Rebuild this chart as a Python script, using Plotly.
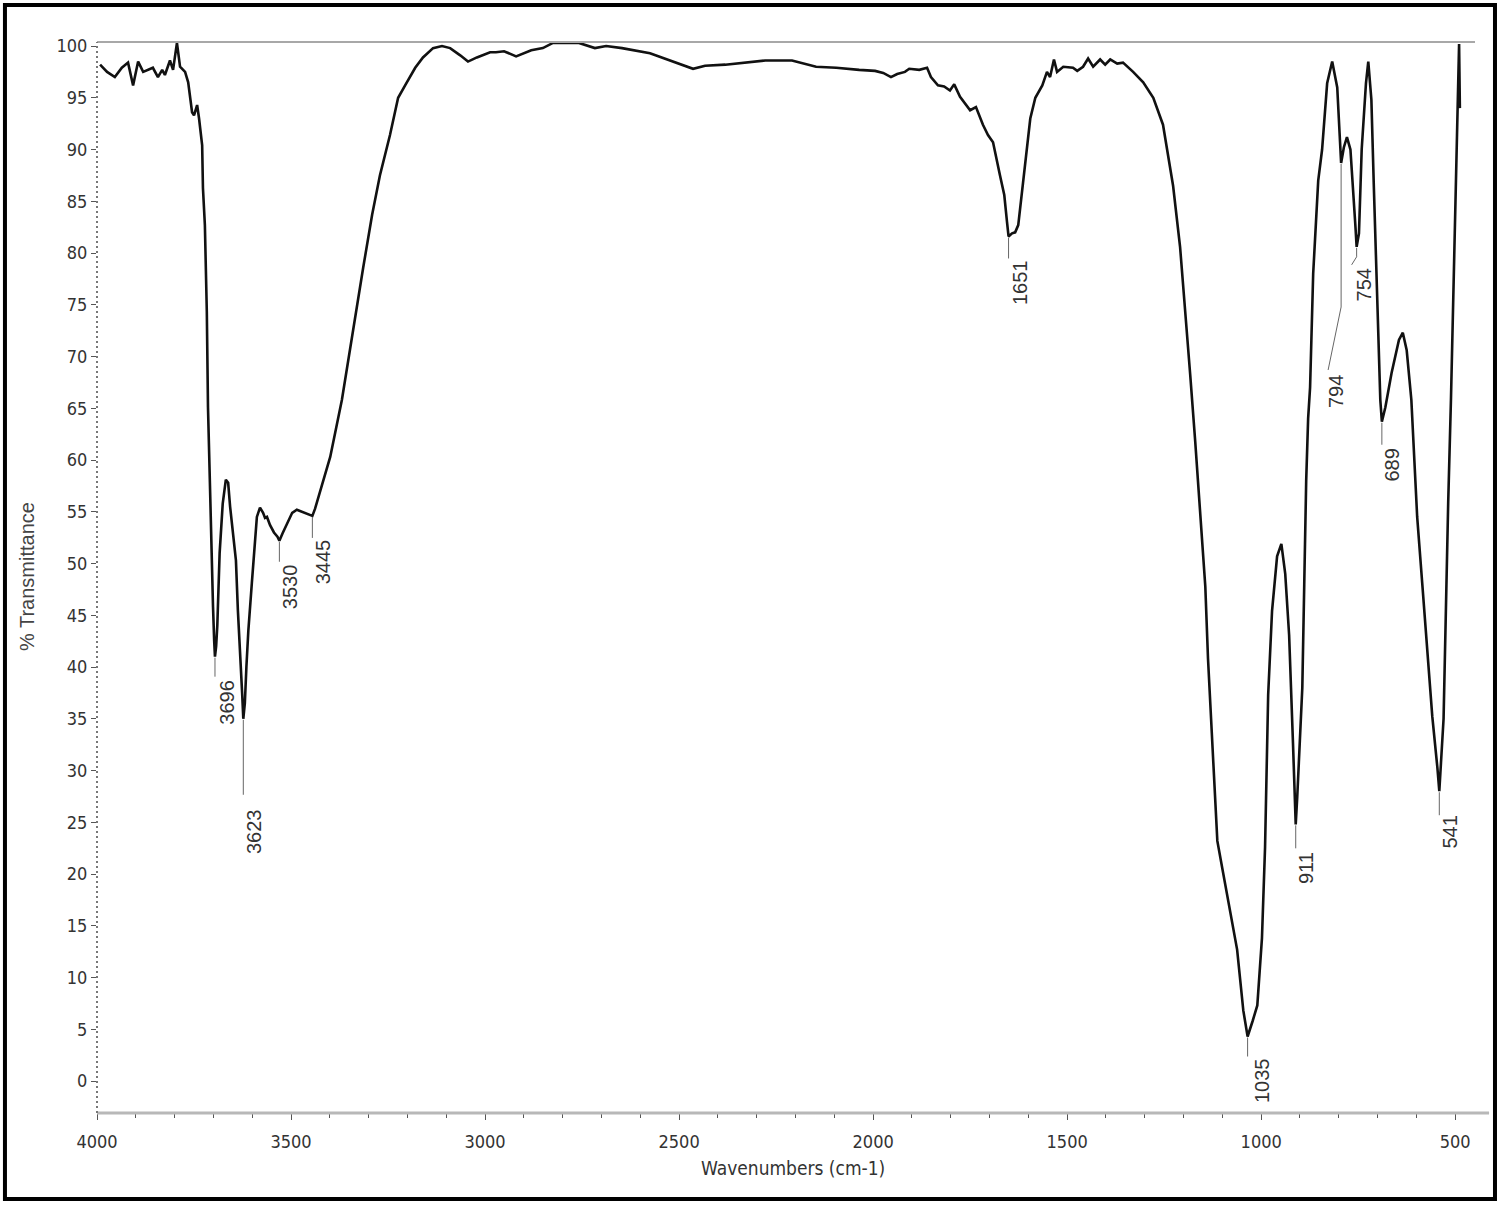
import plotly.graph_objects as go

# FTIR spectrum
wavenumber = [
    3992, 3974, 3954, 3936, 3920, 3907, 3894, 3881, 3856, 3843, 3832, 3825, 3812, 3804, 3794,
    3786, 3773, 3765, 3755, 3750, 3742, 3737, 3729, 3727, 3722, 3719, 3717, 3714, 3709, 3704,
    3701, 3698, 3696, 3693, 3690, 3684, 3676, 3668, 3662, 3657, 3649, 3642, 3637, 3630, 3626,
    3623, 3619, 3615, 3610, 3601, 3593, 3588, 3580, 3572, 3567, 3562, 3554, 3544, 3535, 3530,
    3522, 3510, 3497, 3485, 3472, 3460, 3450, 3445, 3438, 3430, 3418, 3399, 3369, 3335, 3314,
    3291, 3271, 3245, 3224, 3206, 3180, 3160, 3134, 3111, 3090, 3064, 3044, 3021, 2987, 2972,
    2951, 2920, 2881, 2851, 2825, 2758, 2717, 2688, 2647, 2575, 2513, 2464, 2433, 2381, 2278,
    2209, 2147, 2095, 2036, 1995, 1974, 1954, 1938, 1918, 1907, 1881, 1861, 1851, 1833, 1817,
    1802, 1791, 1776, 1750, 1735, 1717, 1704, 1691, 1673, 1662, 1655, 1651, 1642, 1634, 1626,
    1616, 1608, 1595, 1582, 1564, 1552, 1544, 1534, 1526, 1510, 1485, 1474, 1459, 1446, 1433,
    1415, 1402, 1389, 1371, 1356, 1330, 1304, 1278, 1253, 1242, 1227, 1209, 1196, 1183, 1170,
    1157, 1144, 1137, 1126, 1113, 1100, 1088, 1062, 1046, 1035, 1022, 1010, 998, 990, 982,
    972, 959, 948, 938, 928, 918, 914, 911, 907, 900, 894, 889, 884, 879, 874,
    866, 853, 843, 830, 817, 804, 798, 794, 787, 779, 770, 763, 757, 754, 748,
    741, 730, 724, 716, 710, 704, 698, 693, 689, 680, 664, 645, 635, 625, 613,
    598, 585, 572, 559, 546, 541, 530, 524, 518, 511, 500, 492, 490, 488,
]
transmittance = [
    98.2, 97.5, 97.0, 97.9, 98.4, 96.2, 98.5, 97.5, 97.9, 97.0, 97.7, 97.2, 98.6, 97.7, 100.3,
    98.0, 97.5, 96.5, 93.6, 93.3, 94.3, 93.0, 90.4, 86.3, 82.7, 78.8, 74.3, 65.1, 56.8, 51.6,
    45.8, 42.5, 41.0, 42.0, 44.0, 51.0, 55.8, 58.1, 57.8, 55.5, 52.6, 50.3, 45.5, 41.0, 37.5,
    35.0, 36.5, 40.0, 43.5, 48.1, 52.6, 54.5, 55.4, 54.9, 54.4, 54.5, 53.7, 53.0, 52.6, 52.2,
    52.9, 53.9, 54.9, 55.2, 55.0, 54.8, 54.6, 54.6, 55.3, 56.3, 57.8, 60.3, 65.8, 74.0, 78.6,
    83.7, 87.5, 91.4, 95.0, 96.2, 97.9, 98.9, 99.8, 100.0, 99.8, 99.1, 98.5, 98.9, 99.4, 99.4,
    99.5, 99.0, 99.6, 99.8, 100.3, 100.3, 99.8, 100.0, 99.8, 99.3, 98.5, 97.8, 98.1, 98.2, 98.6,
    98.6, 98.0, 97.9, 97.7, 97.6, 97.4, 97.0, 97.3, 97.5, 97.8, 97.7, 97.9, 97.0, 96.2, 96.1,
    95.7, 96.3, 95.1, 93.8, 94.1, 92.4, 91.4, 90.7, 87.5, 85.6, 83.0, 81.6, 81.9, 82.0, 82.7,
    85.9, 88.8, 93.0, 95.0, 96.2, 97.5, 97.0, 98.7, 97.5, 98.0, 97.9, 97.6, 98.0, 98.8, 98.0,
    98.7, 98.2, 98.7, 98.3, 98.4, 97.5, 96.5, 95.0, 92.4, 90.0, 86.5, 80.6, 74.7, 68.3, 61.8,
    54.8, 47.8, 40.8, 32.6, 23.2, 20.5, 18.0, 12.7, 6.8, 4.3, 5.8, 7.3, 13.8, 22.6, 37.3,
    45.4, 50.7, 51.9, 49.0, 43.1, 32.6, 28.0, 24.8, 27.5, 33.0, 38.0, 48.0, 58.0, 64.0, 67.0,
    78.0, 87.0, 90.0, 96.4, 98.5, 96.0, 91.6, 88.7, 90.2, 91.2, 90.0, 86.4, 82.5, 80.6, 81.9,
    90.0, 96.4, 98.5, 94.8, 86.8, 78.6, 70.6, 65.8, 63.7, 65.1, 68.4, 71.6, 72.3, 70.6, 65.8,
    54.5, 48.1, 41.6, 35.2, 30.3, 28.0, 35.0, 46.5, 56.0, 65.8, 85.0, 98.0, 100.2, 94.0,
]

peak_text = ["3696", "3623", "3530", "3445", "1651", "1035", "911", "794", "754", "689", "541"]
peak_wn = [3696, 3623, 3530, 3445, 1651, 1035, 911, 794, 754, 689, 541]
peak_t = [41.0, 35.0, 52.2, 54.6, 81.6, 4.3, 24.8, 88.7, 80.6, 63.7, 28.0]

x_ticks = [4000, 3500, 3000, 2500, 2000, 1500, 1000, 500]
y_ticks = list(range(0, 101, 5))

# leader path (pixels from the peak point, y up) and label centre offset
label_place = {
    "3696": ("M0,-1 L0,-20", 12, -45),
    "3623": ("M0,-1 L0,-76", 10, -113),
    "3530": ("M0,-1 L0,-21", 10, -46),
    "3445": ("M0,-1 L0,-22", 11, -46),
    "1651": ("M0,-1 L0,-22", 12, -46),
    "1035": ("M0,-1 L0,-20", 14, -44),
    "911": ("M0,-1 L0,-24", 11, -44),
    "794": ("M0,-1 L0,-144 L-13,-207", -5, -229),
    "754": ("M0,-1 L0,-10 L-5,-18", 7, -38),
    "689": ("M0,-1 L0,-23", 10, -43),
    "541": ("M0,-1 L0,-24", 11, -41),
}

narrow = "Liberation Sans Narrow, DejaVu Sans Condensed, Arial Narrow, sans-serif"
regular = "Liberation Sans, Arial, sans-serif"

fig = go.Figure()
fig.add_trace(go.Scatter(
    x=wavenumber, y=transmittance, mode="lines",
    line=dict(color="#111111", width=2.6), showlegend=False,
))

shapes = []
annotations = []
for txt, wn, t in zip(peak_text, peak_wn, peak_t):
    path, dx, dy = label_place[txt]
    shapes.append(dict(
        type="path", xref="x", yref="y", xsizemode="pixel", ysizemode="pixel",
        xanchor=wn, yanchor=t, path=path, line=dict(color="#666666", width=1),
    ))
    annotations.append(dict(
        x=wn, y=t, xref="x", yref="y", text=txt, showarrow=False, textangle=-90,
        xshift=dx, yshift=dy, xanchor="center", yanchor="middle",
        font=dict(family=regular, size=20, color="#333333"),
    ))

# frame pieces: top grey rule, bottom axis, dotted left axis, outer black box
shapes += [
    dict(type="line", xref="paper", yref="paper", x0=0, x1=1, y0=1, y1=1,
         line=dict(color="#a8a8a8", width=2)),
    dict(type="line", xref="paper", yref="paper", x0=0, x1=1.0102, y0=0, y1=0,
         line=dict(color="#b8b8b8", width=3)),
    dict(type="line", xref="paper", yref="paper", x0=0, x1=0, y0=0, y1=1,
         line=dict(color="#777777", width=2, dash="2px,3px")),
    dict(type="rect", xref="paper", yref="paper", x0=-0.0668, x1=1.0145, y0=-0.0803, y1=1.0345,
         line=dict(color="black", width=4)),
]

annotations += [
    dict(x=-0.0508, y=0.5014, xref="paper", yref="paper", text="% Transmittance",
         showarrow=False, textangle=-90, xanchor="center", yanchor="middle",
         font=dict(family=regular, size=20, color="#444444")),
    dict(x=0.505, y=-0.0514, xref="paper", yref="paper", text="Wavenumbers (cm-1)",
         showarrow=False, xanchor="center", yanchor="middle",
         font=dict(family=narrow, size=19, color="#333333")),
]

fig.update_layout(
    width=1500, height=1206,
    margin=dict(l=97, r=25, t=42, b=93),
    paper_bgcolor="white", plot_bgcolor="white",
    shapes=shapes, annotations=annotations,
)
fig.update_xaxes(
    range=[4000, 449], tickvals=x_ticks, ticktext=[str(v) for v in x_ticks],
    showgrid=False, zeroline=False, showline=False,
    ticks="outside", ticklen=6, tickwidth=1, tickcolor="#555555", ticklabelstandoff=6,
    minor=dict(dtick=100, ticks="outside", ticklen=4, tickcolor="#555555", showgrid=False),
    tickfont=dict(family=narrow, size=18, color="#333333"),
)
fig.update_yaxes(
    range=[-3.09, 100.39], tickvals=y_ticks, ticktext=[str(v) for v in y_ticks],
    showgrid=False, zeroline=False, showline=False,
    ticks="outside", ticklen=5, tickwidth=1, tickcolor="#555555",
    tickfont=dict(family=narrow, size=18, color="#333333"),
)

# page body has a default 8px margin; drop it so the figure sits at the window origin
fig.write_html("out.html", config={"displayModeBar": False},
               post_script="document.body.style.margin='0';")
